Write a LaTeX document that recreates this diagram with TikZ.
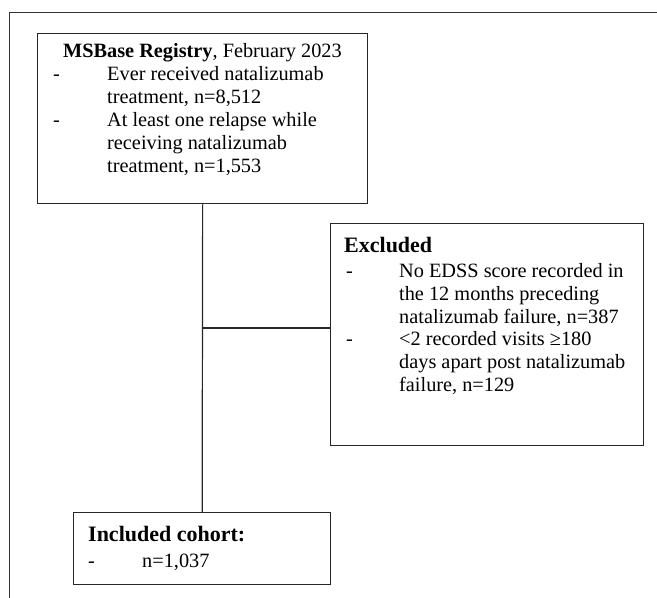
\documentclass[tikz,border=0pt]{standalone}
\usepackage{fontspec}
\setmainfont{Liberation Serif}
\begin{document}
\begin{tikzpicture}[x=1pt,y=-1pt,
  box/.style={draw=black!85, line width=1.3pt, fill=none, inner sep=0pt, anchor=north west},
  conn/.style={draw=black!85, line width=1.2pt},
  frame/.style={draw=black!80, line width=1pt},
  txt/.style={anchor=base west, inner sep=0pt, font=\fontsize{20.3}{23}\selectfont},
  head/.style={anchor=base west, inner sep=0pt, font=\fontsize{22}{26}\selectfont\bfseries}]
\useasboundingbox (0,0) rectangle (657,598);
% outer frame (top and left edges only)
\coordinate (fl) at (9,598);
\coordinate (fc) at (9,12);
\coordinate (fr) at (657,12);
\draw[frame] (fl) -- (fc) -- (fr);
% boxes
\node[box, minimum width=330pt, minimum height=170pt] (reg) at (37,33) {};
\node[box, minimum width=313pt, minimum height=222pt] (exc) at (330,223) {};
\node[box, minimum width=257pt, minimum height=72pt] (inc) at (73,512) {};
% connectors
\draw[conn] (reg.south) -- (inc.north);
\coordinate (j) at (202,328);
\draw[conn] (j) -- (j -| exc.west);
% top box text
\node[txt] (r0) at (63,57) {\textbf{MSBase Registry}, February 2023};
\node[txt] (rd1) at (53,80) {-};
\node[txt] (r1) at (107,80) {Ever received natalizumab};
\node[txt] (r2) at (107,103) {treatment, n=8,512};
\node[txt] (rd2) at (53,126) {-};
\node[txt] (r3) at (107,126) {At least one relapse while};
\node[txt] (r4) at (107,149) {receiving natalizumab};
\node[txt] (r5) at (107,172) {treatment, n=1,553};
% excluded box text
\node[head] (e0) at (344,252) {Excluded};
\node[txt] (ed1) at (346,277) {-};
\node[txt] (e1) at (399,277) {No EDSS score recorded in};
\node[txt] (e2) at (399,300) {the 12 months preceding};
\node[txt] (e3) at (399,323) {natalizumab failure, n=387};
\node[txt] (ed2) at (346,345) {-};
\node[txt] (e4) at (399,345) {<2 recorded visits ≥180};
\node[txt] (e5) at (399,368) {days apart post natalizumab};
\node[txt] (e6) at (399,391) {failure, n=129};
% included box text
\node[head] (i0) at (88,541) {Included cohort:};
\node[txt] (id1) at (88,567) {-};
\node[txt] (i1) at (142,567) {n=1,037};
\end{tikzpicture}
\end{document}
